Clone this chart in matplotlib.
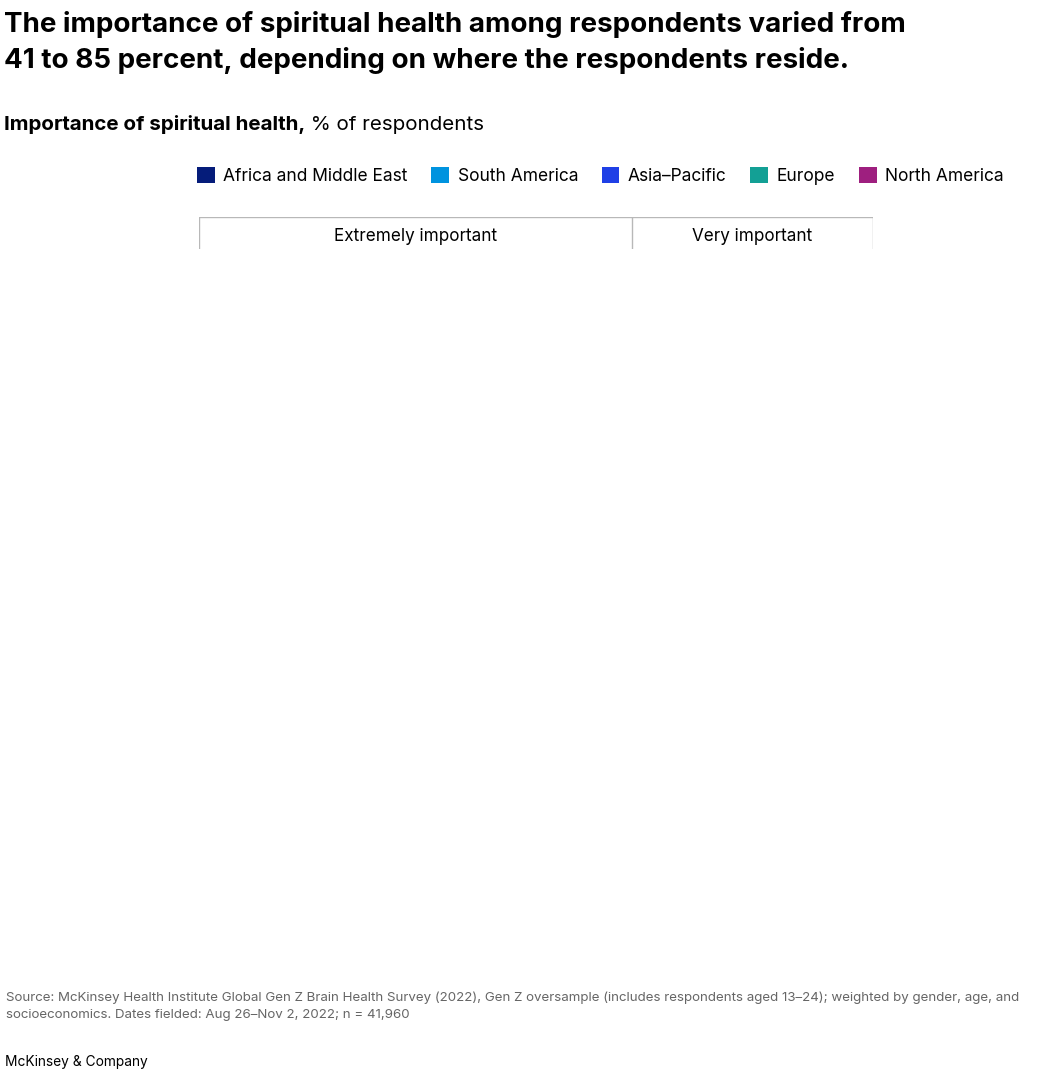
import matplotlib
matplotlib.use("Agg")
import matplotlib.pyplot as plt
from matplotlib.patches import Patch

plt.rcParams['font.family'] = ['Inter', 'DejaVu Sans']

title = ("The importance of spiritual health among respondents varied from\n"
         "41 to 85 percent, depending on where the respondents reside.")
subtitle_bold = "Importance of spiritual health,"
subtitle_rest = " % of respondents"

regions = ["Africa and Middle East", "South America", "Asia\u2013Pacific", "Europe", "North America"]
region_colors = ["#051c7a", "#0093df", "#1f40e6", "#13a095", "#9e1f7f"]

column_headers = ["Extremely important", "Very important"]

source = ("Source: McKinsey Health Institute Global Gen Z Brain Health Survey (2022), Gen Z oversample "
          "(includes respondents aged 13\u201324); weighted by gender, age, and\n"
          "socioeconomics. Dates fielded: Aug 26\u2013Nov 2, 2022; n = 41,960")
footer = "McKinsey & Company"

W, H = 1046, 1080
fig = plt.figure(figsize=(W / 100, H / 100), dpi=100)


def fx(px):
    return px / W


def fy(py):
    return 1 - py / H


# title and subtitle
fig.text(fx(4), fy(11), title, fontsize=20, fontweight='bold', va='top', ha='left',
         linespacing=1.45, color='black')
t = fig.text(fx(4), fy(125), subtitle_bold, fontsize=14.8, fontweight='bold', va='center', ha='left')
fig.canvas.draw()
bb = t.get_window_extent()
fig.text(bb.x1 / W, fy(125), subtitle_rest, fontsize=14.8, va='center', ha='left')

# legend
handles = [Patch(facecolor=c, edgecolor='none', label=r) for r, c in zip(regions, region_colors)]
fig.legend(handles=handles, loc='center left', bbox_to_anchor=(fx(181), fy(176)), ncol=5,
           frameon=False, fontsize=12.5, handlelength=1.03, handleheight=1.03,
           handletextpad=0.5, columnspacing=1.35)

# column header strip
ax = fig.add_axes([fx(199), fy(249), fx(873) - fx(199), 32 / H])
ax.set_xlim(0, 674)
ax.set_ylim(0, 1)
ax.axis('off')
splits = [0, 433, 674]
line_kw = dict(color='#b8b8b8', lw=1)
ax.plot([splits[0], splits[-1]], [1, 1], **line_kw)
for s in splits:
    ax.plot([s, s], [0, 1], **line_kw)
for i, h in enumerate(column_headers):
    ax.text((splits[i] + splits[i + 1]) / 2, 0.38, h, ha='center', va='center', fontsize=12.3)

# source and footer
fig.text(fx(6), fy(992), source, fontsize=9.6, color='#666666', va='top', ha='left', linespacing=1.45)
fig.text(fx(5), fy(1062), footer, fontsize=9.9, color='black', va='center', ha='left')

fig.savefig("out.png", dpi=100)
